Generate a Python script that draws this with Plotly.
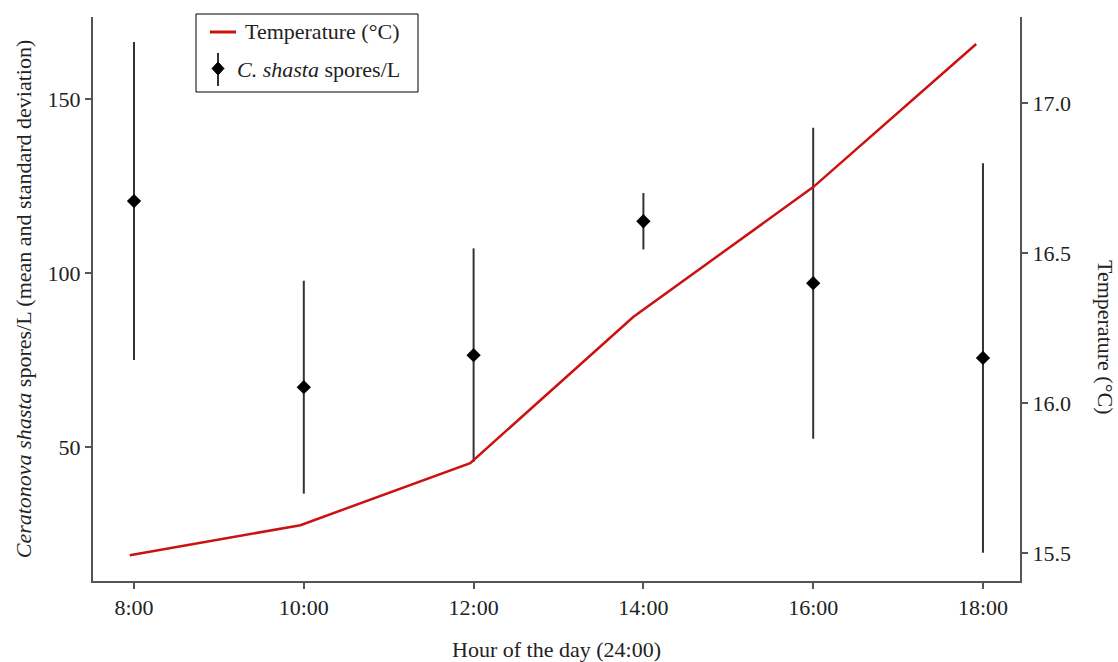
import plotly.graph_objects as go

# Data
hours = [8, 10, 12, 14, 16, 18]
hour_labels = ["8:00", "10:00", "12:00", "14:00", "16:00", "18:00"]
spores_mean = [120.7, 67.2, 76.4, 114.9, 97.1, 75.6]
spores_sd = [45.7, 30.6, 30.7, 8.1, 44.7, 56.0]

temp_hours = [7.95, 9.96, 11.96, 13.88, 16.0, 17.92]
temp_c = [15.493, 15.593, 15.80, 16.287, 16.72, 17.197]

FONT = "Liberation Serif"
AX = "#555555"
FS = 22
W, H = 1118, 662
ML, MR, MT, MB = 93, 98, 17, 81
PW = W - ML - MR
PH = H - MT - MB


def px(xp):
    return (xp - ML) / PW


def py(yp):
    return (H - MB - yp) / PH


fig = go.Figure()

fig.add_trace(go.Scatter(
    x=hours, y=spores_mean, mode="markers",
    name="<i>C. shasta</i> spores/L",
    marker=dict(symbol="diamond", size=11, color="black"),
    error_y=dict(type="data", array=spores_sd, visible=True,
                 color="#333333", thickness=2, width=0),
    yaxis="y", showlegend=False,
))

fig.add_trace(go.Scatter(
    x=temp_hours, y=temp_c, mode="lines",
    name="Temperature (°C)",
    line=dict(color="#cc1111", width=2.5),
    yaxis="y2", showlegend=False,
))

# Custom legend (box, symbols, labels) in paper coordinates
shapes = [
    dict(type="rect", xref="paper", yref="paper",
         x0=px(196), x1=px(418), y0=py(92), y1=py(14),
         line=dict(color="black", width=1), fillcolor="white", layer="above"),
    dict(type="line", xref="paper", yref="paper",
         x0=px(210), x1=px(236), y0=py(32), y1=py(32),
         line=dict(color="#cc1111", width=3), layer="above"),
    dict(type="line", xref="paper", yref="paper",
         x0=px(218), x1=px(218), y0=py(53), y1=py(86),
         line=dict(color="#333333", width=2), layer="above"),
    dict(type="path", xref="paper", yref="paper",
         path=(f"M {px(218)} {py(62)} L {px(224)} {py(68.5)} "
               f"L {px(218)} {py(75)} L {px(212)} {py(68.5)} Z"),
         line=dict(color="black", width=1), fillcolor="black", layer="above"),
]

annotations = [
    dict(text="Temperature (°C)", xref="paper", yref="paper",
         x=px(243), y=py(32), xanchor="left", yanchor="middle",
         showarrow=False, font=dict(size=FS, family=FONT, color="#222222")),
    dict(text="<i>C. shasta</i> spores/L", xref="paper", yref="paper",
         x=px(235), y=py(69), xanchor="left", yanchor="middle",
         showarrow=False, font=dict(size=FS, family=FONT, color="#222222")),
    dict(text="Temperature (°C)", textangle=90,
         xref="paper", yref="paper", x=px(1105), y=py(337),
         xanchor="center", yanchor="middle", showarrow=False,
         font=dict(size=FS, family=FONT, color="#222222")),
]

fig.update_layout(
    width=W, height=H,
    margin=dict(l=ML, r=MR, t=MT, b=MB),
    paper_bgcolor="white", plot_bgcolor="white",
    font=dict(family=FONT, size=FS, color="#222222"),
    showlegend=False,
    xaxis=dict(
        range=[7.517, 18.436], tickvals=hours, ticktext=hour_labels,
        showline=True, linecolor=AX, linewidth=2, mirror=False,
        ticks="outside", ticklen=6, tickwidth=2, tickcolor=AX,
        showgrid=False, zeroline=False, automargin=False,
        title=dict(text="Hour of the day (24:00)", font=dict(size=FS), standoff=24),
    ),
    yaxis=dict(
        range=[11.5, 173.6], tickvals=[50, 100, 150],
        showline=True, linecolor=AX, linewidth=2,
        ticks="outside", ticklen=6, tickwidth=2, tickcolor=AX,
        showgrid=False, zeroline=False, automargin=False,
        title=dict(text="<i>Ceratonova shasta</i> spores/L (mean and standard deviation)",
                   font=dict(size=FS), standoff=10),
    ),
    yaxis2=dict(
        range=[15.407, 17.287], tickvals=[15.5, 16.0, 16.5, 17.0],
        ticktext=["15.5", "16.0", "16.5", "17.0"],
        overlaying="y", side="right",
        showline=True, linecolor=AX, linewidth=2,
        ticks="outside", ticklen=6, tickwidth=2, tickcolor=AX,
        showgrid=False, zeroline=False, automargin=False,
    ),
    shapes=shapes,
    annotations=annotations,
)

fig.write_html("out.html")
